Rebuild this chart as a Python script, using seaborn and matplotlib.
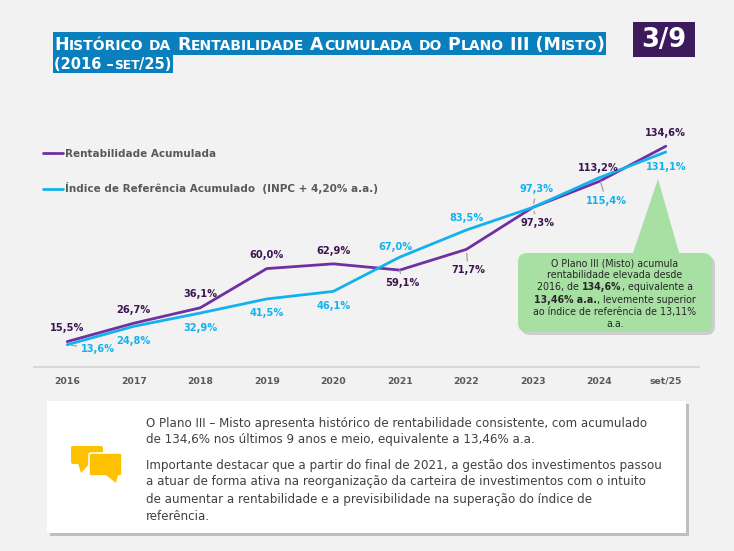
import numpy as np
import pandas as pd
import seaborn as sns
import matplotlib.pyplot as plt
import matplotlib.transforms as mtransforms
from matplotlib.patches import FancyBboxPatch, Polygon, Rectangle

# dados
anos = ['2016', '2017', '2018', '2019', '2020', '2021', '2022', '2023', '2024', 'set/25']
rentabilidade = [15.5, 26.7, 36.1, 60.0, 62.9, 59.1, 71.7, 97.3, 113.2, 134.6]
referencia = [13.6, 24.8, 32.9, 41.5, 46.1, 67.0, 83.5, 97.3, 115.4, 131.1]
series = ['Rentabilidade Acumulada', 'Índice de Referência Acumulado  (INPC + 4,20% a.a.)']

# deslocamento dos rótulos (pixels) e quais levam linha de chamada
off_rent = [(0, 14), (0, 13), (0, 14), (0, 14), (0, 13), (3, -13), (2, -21), (5, -16), (-1, 13), (0, 13)]
off_ref = [(31, -4), (0, -15), (0, -15), (0, -14), (0, -15), (-4, 10), (0, 12), (4, 18), (7, -23), (1, -15)]
chamada_rent = [5, 6, 7]
chamada_ref = [0, 7, 8]

ROXO = '#7030a0'
ROXO_TXT = '#3b1650'
AZUL = '#12b2ef'
CINZA = '#595959'
FUNDO = '#f2f2f2'

sns.set_theme(style='white')
plt.rcParams['font.family'] = ['DejaVu Sans']

W, H = 734, 551
fig = plt.figure(figsize=(W / 100, H / 100), dpi=100, facecolor=FUNDO)
# pixels (origem no topo) -> figura
T = mtransforms.Affine2D().scale(1 / W, -1 / H).translate(0, 1) + fig.transFigure

ax = fig.add_axes([34 / W, 1 - 367 / H, 665 / W, 246 / H])
ax.set_facecolor('none')

df = pd.DataFrame({
    'pos': list(range(len(anos))) * 2,
    'valor': rentabilidade + referencia,
    'serie': [series[0]] * len(anos) + [series[1]] * len(anos),
})
sns.lineplot(data=df, x='pos', y='valor', hue='serie', palette=[ROXO, AZUL],
             linewidth=2, ax=ax, legend=False)

ax.set_xlim(-0.5, len(anos) - 0.5)
ax.set_ylim(0, 150)
ax.set_xticks(range(len(anos)), anos)
ax.set_yticks([])
ax.set_xlabel('')
ax.set_ylabel('')
ax.tick_params(axis='x', length=0, pad=7, labelsize=6.7, labelcolor=CINZA)
for lab in ax.get_xticklabels():
    lab.set_fontweight('bold')
for s in ['top', 'left', 'right']:
    ax.spines[s].set_visible(False)
ax.spines['bottom'].set_color('#d9d9d9')
ax.spines['bottom'].set_linewidth(1.5)


def rotular(valores, offs, chamadas, cor):
    for i, (v, (dx, dy)) in enumerate(zip(valores, offs)):
        txt = f'{v:.1f}%'.replace('.', ',')
        props = None
        if i in chamadas:
            props = dict(arrowstyle='-', color='#a6a6a6', lw=1, shrinkA=1, shrinkB=3)
        ax.annotate(txt, (i, v), xytext=(dx, dy), textcoords='offset pixels',
                    ha='center', va='center', fontsize=7.1, fontweight='bold',
                    color=cor, arrowprops=props)


rotular(rentabilidade, off_rent, chamada_rent, ROXO_TXT)
rotular(referencia, off_ref, chamada_ref, AZUL)

leg = ax.legend(ax.lines[:2], series, loc='upper left', frameon=False,
                bbox_to_anchor=(43 / W, 1 - 149 / H), bbox_transform=fig.transFigure,
                borderpad=0, borderaxespad=0, handlelength=1.95, handletextpad=0.15,
                labelspacing=2.25, prop=dict(size=7.5, weight='bold'), labelcolor=CINZA)

renderer = fig.canvas.get_renderer()


def medir(txt, size, weight):
    t = fig.text(0, 0, '|' + txt + '|', fontsize=size, fontweight=weight)
    w1 = t.get_window_extent(renderer).width
    t.set_text('||')
    w2 = t.get_window_extent(renderer).width
    t.remove()
    return w1 - w2


def escrever(x, y, runs, ha='left', cor='black'):
    larguras = [medir(s, size, wt) for s, size, wt in runs]
    x0 = x - sum(larguras) / 2 if ha == 'center' else x
    for (s, size, wt), w in zip(runs, larguras):
        fig.text(x0, y, s, transform=T, fontsize=size, fontweight=wt, color=cor,
                 ha='left', va='baseline')
        x0 += w


def versalete(texto, grande=12.5, pequeno=10):
    runs = []
    for ch in texto:
        if ch.islower():
            item = (ch.upper(), pequeno, 'bold')
        else:
            item = (ch, grande, 'bold')
        if runs and runs[-1][1] == item[1]:
            runs[-1] = (runs[-1][0] + item[0], item[1], 'bold')
        else:
            runs.append(item)
    return runs


# titulo
fig.patches.append(Rectangle((53, 32), 553, 23, transform=T, facecolor='#0a7fbd', edgecolor='none'))
fig.patches.append(Rectangle((53, 55), 120, 18, transform=T, facecolor='#0a7fbd', edgecolor='none'))
escrever(54, 50, versalete('Histórico da Rentabilidade Acumulada do Plano III (Misto)'), cor='white')
escrever(54, 69, versalete('(2016 –set/25)', grande=10.5, pequeno=8.8), cor='white')

# numero da pagina
fig.patches.append(Rectangle((633, 22), 62, 35, transform=T, facecolor='#3d1a5b', edgecolor='none'))
fig.text(664, 40, '3/9', transform=T, fontsize=18.5, fontweight='bold', color='white',
         ha='center', va='center')

# balao verde
VERDE = '#a8e0a4'
fig.patches.append(FancyBboxPatch((521, 256), 194, 79, transform=T, boxstyle='round,pad=0,rounding_size=9',
                                  facecolor='#c4c4c4', edgecolor='none', alpha=0.8))
fig.patches.append(Polygon([(632, 256), (680, 256), (658, 179)], closed=True, transform=T,
                           facecolor=VERDE, edgecolor='none'))
fig.patches.append(FancyBboxPatch((518, 253), 194, 79, transform=T, boxstyle='round,pad=0,rounding_size=9',
                                  facecolor=VERDE, edgecolor='none'))
linhas_balao = [
    [('O Plano III (Misto) acumula', 'normal')],
    [('rentabilidade elevada desde', 'normal')],
    [('2016, de ', 'normal'), ('134,6%', 'bold'), (', equivalente a', 'normal')],
    [('13,46% a.a.', 'bold'), (', levemente superior', 'normal')],
    [('ao índice de referência de 13,11%', 'normal')],
    [('a.a.', 'normal')],
]
for k, linha in enumerate(linhas_balao):
    escrever(615, 266 + 12.2 * k, [(s, 6.85, wt) for s, wt in linha], ha='center', cor='#262626')

# caixa inferior
fig.patches.append(Rectangle((50, 404), 639, 132, transform=T, facecolor='#bfbfbf', edgecolor='none'))
fig.patches.append(Rectangle((47, 401), 639, 132, transform=T, facecolor='white', edgecolor='none'))

AMARELO = '#ffc000'
fig.patches.append(FancyBboxPatch((71, 446), 32, 18, transform=T, boxstyle='round,pad=0,rounding_size=2',
                                  facecolor=AMARELO, edgecolor='none'))
fig.patches.append(Polygon([(78, 463), (90, 463), (81, 473)], closed=True, transform=T,
                           facecolor=AMARELO, edgecolor='none'))
fig.patches.append(FancyBboxPatch((89, 453), 33, 23, transform=T, boxstyle='round,pad=0,rounding_size=2',
                                  facecolor=AMARELO, edgecolor='white', linewidth=1.2))
fig.patches.append(Polygon([(106, 475), (118, 475), (116, 483)], closed=True, transform=T,
                           facecolor=AMARELO, edgecolor='none'))

texto_caixa = [
    (423, 'O Plano III – Misto apresenta histórico de rentabilidade consistente, com acumulado'),
    (440, 'de 134,6% nos últimos 9 anos e meio, equivalente a 13,46% a.a.'),
    (465, 'Importante destacar que a partir do final de 2021, a gestão dos investimentos passou'),
    (482, 'a atuar de forma ativa na reorganização da carteira de investimentos com o intuito'),
    (499, 'de aumentar a rentabilidade e a previsibilidade na superação do índice de'),
    (516, 'referência.'),
]
for y, s in texto_caixa:
    fig.text(146, y, s, transform=T, fontsize=8.6, color='#404040', ha='left', va='center')

fig.savefig('out.png', dpi=100, facecolor=FUNDO)
